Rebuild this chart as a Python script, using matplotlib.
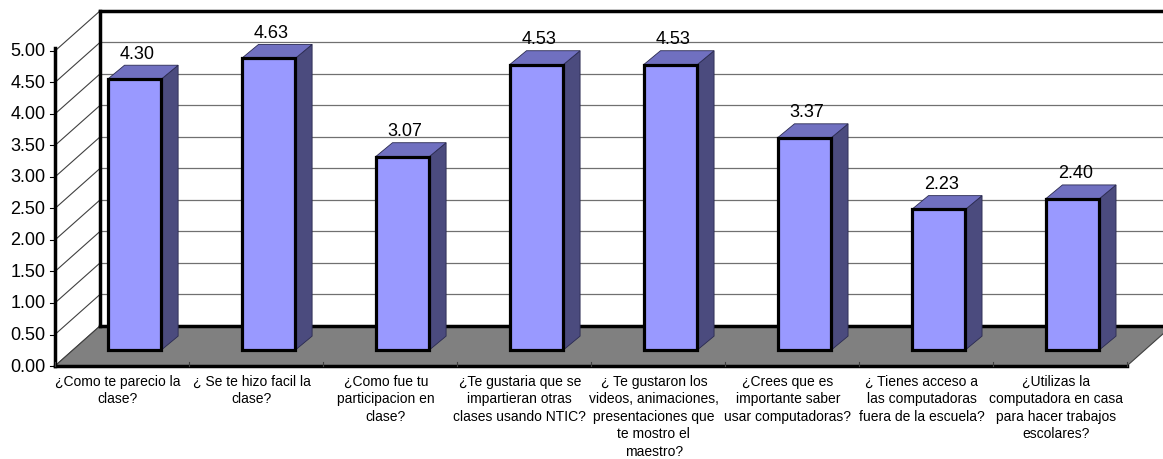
import matplotlib.pyplot as plt
from matplotlib.patches import Polygon

plt.rcParams['font.family'] = ['Liberation Sans', 'DejaVu Sans']

# datos de la encuesta
preguntas = [
    "¿Como te parecio la\nclase?",
    "¿ Se te hizo facil la\nclase?",
    "¿Como fue tu\nparticipacion en\nclase?",
    "¿Te gustaria que se\nimpartieran otras\nclases usando NTIC?",
    "¿ Te gustaron los\nvideos, animaciones,\npresentaciones que\nte mostro el\nmaestro?",
    "¿Crees que es\nimportante saber\nusar computadoras?",
    "¿ Tienes acceso a\nlas computadoras\nfuera de la escuela?",
    "¿Utilizas la\ncomputadora en casa\npara hacer trabajos\nescolares?",
]
promedios = [4.30, 4.63, 3.07, 4.53, 4.53, 3.37, 2.23, 2.40]
marcas_y = [0.0, 0.5, 1.0, 1.5, 2.0, 2.5, 3.0, 3.5, 4.0, 4.5, 5.0]

# falso 3D: desplazamiento de la pared del fondo (en unidades de datos)
DX, DY = 0.336, 0.635
n = len(promedios)

fig = plt.figure(figsize=(11.63, 4.60), dpi=100)
ax = fig.add_axes([0, 0, 1, 1])
ax.set_xlim(-0.41, 8.27)
ax.set_ylim(-1.476, 5.825)
ax.axis('off')

# pared del fondo: lineas de rejilla
for t in marcas_y[1:-1]:
    ax.plot([DX, n + DX], [t + DY, t + DY], color='#707070', lw=0.9, zorder=1)
# pared lateral: diagonales
for t in marcas_y:
    ax.plot([0, DX], [t, t + DY], color='#404040', lw=0.8, zorder=1)

# piso gris
piso = Polygon([(0, 0), (n, 0), (n + DX, DY), (DX, DY)], closed=True,
               facecolor='#808080', edgecolor='#404040', lw=0.8, zorder=2)
ax.add_patch(piso)

# bordes gruesos
ax.plot([DX, n + DX], [5 + DY, 5 + DY], color='black', lw=2.5, zorder=3)
ax.plot([DX, DX], [DY, 5 + DY], color='black', lw=2.5, zorder=3)
ax.plot([DX, n + DX], [DY, DY], color='black', lw=2.5, zorder=3)
ax.plot([0, 0], [0, 5.05], color='black', lw=2.5, zorder=6)
ax.plot([0, n], [0, 0], color='black', lw=2.5, zorder=6)

# marcas del eje y
for t in marcas_y:
    ax.plot([-0.035, 0], [t, t], color='black', lw=0.8, zorder=6)
    ax.text(-0.07, t, f"{t:.2f}", ha='right', va='center', fontsize=13)

# marcas del eje x y etiquetas
for i in range(n + 1):
    ax.plot([i, i], [0, 0.06], color='#404040', lw=0.8, zorder=6)
for i, p in enumerate(preguntas):
    ax.text(i + 0.47, -0.12, p, ha='center', va='top', fontsize=10,
            linespacing=1.32)

# barras
ancho = 0.40
prof0 = 0.4
bdx, bdy = 0.125, 0.22
for i, v in enumerate(promedios):
    x0 = i + 0.26 + prof0 * DX
    y0 = prof0 * DY
    x1 = x0 + ancho
    y1 = y0 + v
    lado = Polygon([(x1, y0), (x1 + bdx, y0 + bdy), (x1 + bdx, y1 + bdy), (x1, y1)],
                   closed=True, facecolor='#4b4b7e', edgecolor='#2a2a50', lw=0.6, zorder=4)
    tapa = Polygon([(x0, y1), (x1, y1), (x1 + bdx, y1 + bdy), (x0 + bdx, y1 + bdy)],
                   closed=True, facecolor='#7070c0', edgecolor='#2a2a50', lw=0.6, zorder=4)
    frente = Polygon([(x0, y0), (x1, y0), (x1, y1), (x0, y1)], closed=True,
                     facecolor='#9999ff', edgecolor='black', lw=2.3, zorder=5)
    ax.add_patch(lado)
    ax.add_patch(tapa)
    ax.add_patch(frente)
    ax.text((x0 + x1) / 2 + 0.02, y1 + bdy + 0.19, f"{v:.2f}", ha='center',
            va='center', fontsize=13)

fig.savefig('out.png', dpi=100)
